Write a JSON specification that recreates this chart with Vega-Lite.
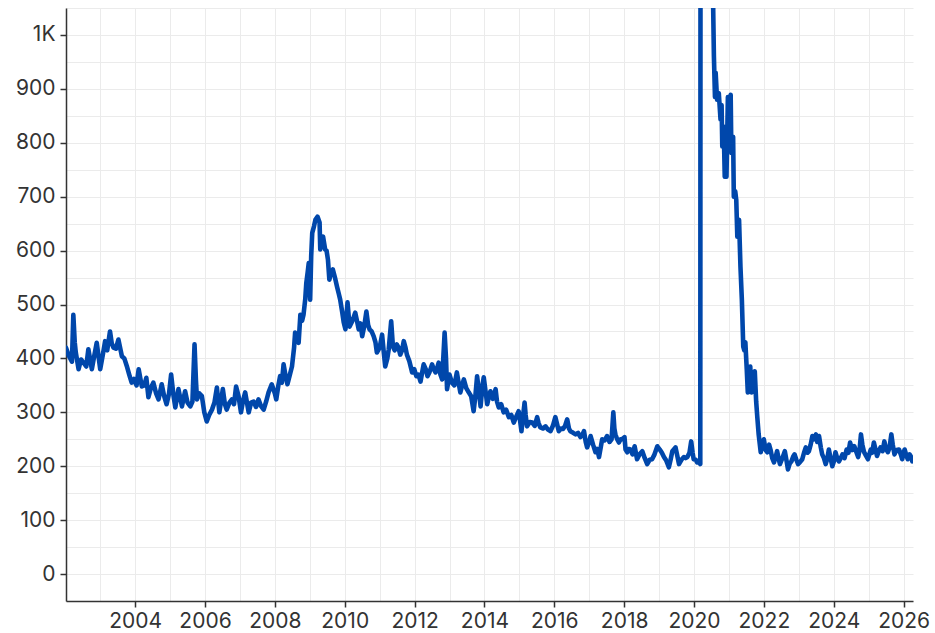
{
  "$schema": "https://vega.github.io/schema/vega-lite/v6.json",
  "width": 847,
  "height": 593,
  "autosize": {"type": "none"},
  "padding": {"left": 66, "top": 8, "right": 22, "bottom": 32},
  "background": "white",
  "config": {
    "view": {"stroke": null},
    "axis": {
      "labelFont": "Inter",
      "labelFontSize": 21,
      "labelColor": "#333333",
      "domainColor": "#333333",
      "domainWidth": 1.5,
      "tickColor": "#333333",
      "tickWidth": 1.5,
      "tickSize": 6,
      "gridColor": "#EBEBEB",
      "gridWidth": 1,
      "title": null
    }
  },
  "data": {"values": [
    {"t":2002.02,"v":420},{"t":2002.1,"v":405},{"t":2002.19,"v":394},{"t":2002.23,"v":481},{"t":2002.27,"v":430},{"t":2002.3,"v":411},{"t":2002.38,"v":380},{"t":2002.45,"v":398},{"t":2002.52,"v":392},{"t":2002.6,"v":385},{"t":2002.66,"v":417},{"t":2002.76,"v":380},{"t":2002.83,"v":405},{"t":2002.9,"v":429},{"t":2003.0,"v":380},{"t":2003.07,"v":405},{"t":2003.14,"v":432},{"t":2003.2,"v":415},{"t":2003.28,"v":450},{"t":2003.33,"v":428},{"t":2003.38,"v":420},{"t":2003.45,"v":418},{"t":2003.52,"v":435},{"t":2003.62,"v":404},{"t":2003.69,"v":400},{"t":2003.76,"v":386},{"t":2003.83,"v":370},{"t":2003.9,"v":355},{"t":2003.97,"v":362},
    {"t":2004.04,"v":350},{"t":2004.1,"v":380},{"t":2004.19,"v":348},{"t":2004.26,"v":350},{"t":2004.32,"v":364},{"t":2004.38,"v":328},{"t":2004.45,"v":345},{"t":2004.52,"v":355},{"t":2004.6,"v":335},{"t":2004.67,"v":324},{"t":2004.76,"v":352},{"t":2004.83,"v":330},{"t":2004.9,"v":315},{"t":2004.97,"v":335},
    {"t":2005.03,"v":370},{"t":2005.1,"v":330},{"t":2005.15,"v":309},{"t":2005.24,"v":343},{"t":2005.34,"v":311},{"t":2005.43,"v":339},{"t":2005.5,"v":318},{"t":2005.58,"v":311},{"t":2005.64,"v":320},{"t":2005.7,"v":426},{"t":2005.74,"v":360},{"t":2005.77,"v":324},{"t":2005.84,"v":335},{"t":2005.91,"v":330},{"t":2005.98,"v":300},
    {"t":2006.05,"v":283},{"t":2006.12,"v":295},{"t":2006.2,"v":305},{"t":2006.27,"v":318},{"t":2006.34,"v":346},{"t":2006.41,"v":300},{"t":2006.51,"v":343},{"t":2006.57,"v":315},{"t":2006.62,"v":305},{"t":2006.7,"v":318},{"t":2006.77,"v":324},{"t":2006.83,"v":315},{"t":2006.89,"v":348},{"t":2006.96,"v":330},
    {"t":2007.03,"v":300},{"t":2007.09,"v":322},{"t":2007.15,"v":337},{"t":2007.25,"v":300},{"t":2007.32,"v":318},{"t":2007.39,"v":320},{"t":2007.46,"v":310},{"t":2007.53,"v":324},{"t":2007.6,"v":312},{"t":2007.68,"v":305},{"t":2007.75,"v":320},{"t":2007.82,"v":337},{"t":2007.91,"v":352},
    {"t":2008.0,"v":335},{"t":2008.04,"v":324},{"t":2008.1,"v":350},{"t":2008.15,"v":367},{"t":2008.2,"v":355},{"t":2008.25,"v":389},{"t":2008.3,"v":370},{"t":2008.36,"v":352},{"t":2008.43,"v":370},{"t":2008.49,"v":385},{"t":2008.55,"v":420},{"t":2008.58,"v":448},{"t":2008.63,"v":440},{"t":2008.68,"v":429},{"t":2008.73,"v":481},{"t":2008.78,"v":470},{"t":2008.82,"v":481},{"t":2008.87,"v":510},{"t":2008.9,"v":540},{"t":2008.94,"v":560},{"t":2008.97,"v":577},
    {"t":2009.01,"v":509},{"t":2009.04,"v":590},{"t":2009.07,"v":633},{"t":2009.12,"v":645},{"t":2009.16,"v":657},{"t":2009.22,"v":663},{"t":2009.28,"v":652},{"t":2009.3,"v":602},{"t":2009.34,"v":620},{"t":2009.38,"v":626},{"t":2009.44,"v":602},{"t":2009.48,"v":600},{"t":2009.52,"v":583},{"t":2009.56,"v":546},{"t":2009.61,"v":560},{"t":2009.66,"v":565},{"t":2009.72,"v":550},{"t":2009.78,"v":533},{"t":2009.83,"v":520},{"t":2009.87,"v":509},{"t":2009.93,"v":485},{"t":2009.97,"v":467},
    {"t":2010.02,"v":454},{"t":2010.08,"v":504},{"t":2010.14,"v":459},{"t":2010.2,"v":467},{"t":2010.25,"v":475},{"t":2010.3,"v":485},{"t":2010.35,"v":470},{"t":2010.4,"v":454},{"t":2010.45,"v":465},{"t":2010.5,"v":441},{"t":2010.56,"v":460},{"t":2010.62,"v":487},{"t":2010.67,"v":462},{"t":2010.71,"v":454},{"t":2010.77,"v":450},{"t":2010.83,"v":441},{"t":2010.88,"v":430},{"t":2010.92,"v":411},
    {"t":2011.0,"v":420},{"t":2011.07,"v":444},{"t":2011.12,"v":410},{"t":2011.16,"v":385},{"t":2011.22,"v":400},{"t":2011.26,"v":417},{"t":2011.33,"v":469},{"t":2011.38,"v":422},{"t":2011.43,"v":415},{"t":2011.49,"v":426},{"t":2011.54,"v":420},{"t":2011.59,"v":407},{"t":2011.64,"v":415},{"t":2011.69,"v":432},{"t":2011.74,"v":420},{"t":2011.78,"v":407},{"t":2011.85,"v":395},{"t":2011.93,"v":374},{"t":2011.99,"v":380},
    {"t":2012.05,"v":367},{"t":2012.11,"v":370},{"t":2012.17,"v":357},{"t":2012.22,"v":375},{"t":2012.26,"v":389},{"t":2012.32,"v":380},{"t":2012.37,"v":367},{"t":2012.43,"v":375},{"t":2012.5,"v":389},{"t":2012.55,"v":380},{"t":2012.6,"v":374},{"t":2012.65,"v":383},{"t":2012.69,"v":392},{"t":2012.74,"v":370},{"t":2012.79,"v":361},{"t":2012.86,"v":448},{"t":2012.9,"v":400},{"t":2012.93,"v":343},
    {"t":2013.0,"v":370},{"t":2013.07,"v":355},{"t":2013.14,"v":350},{"t":2013.21,"v":374},{"t":2013.26,"v":355},{"t":2013.31,"v":337},{"t":2013.36,"v":350},{"t":2013.41,"v":361},{"t":2013.48,"v":345},{"t":2013.55,"v":337},{"t":2013.62,"v":330},{"t":2013.69,"v":302},{"t":2013.74,"v":330},{"t":2013.79,"v":367},{"t":2013.84,"v":340},{"t":2013.89,"v":311},{"t":2013.94,"v":348},{"t":2013.98,"v":365},
    {"t":2014.03,"v":340},{"t":2014.08,"v":315},{"t":2014.13,"v":330},{"t":2014.17,"v":339},{"t":2014.24,"v":325},{"t":2014.32,"v":343},{"t":2014.36,"v":320},{"t":2014.41,"v":309},{"t":2014.48,"v":315},{"t":2014.55,"v":300},{"t":2014.62,"v":305},{"t":2014.7,"v":291},{"t":2014.77,"v":295},{"t":2014.84,"v":281},{"t":2014.91,"v":292},{"t":2014.98,"v":302},
    {"t":2015.02,"v":285},{"t":2015.06,"v":265},{"t":2015.1,"v":290},{"t":2015.15,"v":318},{"t":2015.18,"v":295},{"t":2015.22,"v":274},{"t":2015.3,"v":282},{"t":2015.37,"v":281},{"t":2015.44,"v":275},{"t":2015.51,"v":291},{"t":2015.55,"v":280},{"t":2015.6,"v":272},{"t":2015.68,"v":270},{"t":2015.75,"v":274},{"t":2015.82,"v":268},{"t":2015.89,"v":265},{"t":2015.96,"v":275},
    {"t":2016.03,"v":291},{"t":2016.08,"v":278},{"t":2016.13,"v":265},{"t":2016.19,"v":270},{"t":2016.25,"v":269},{"t":2016.31,"v":275},{"t":2016.37,"v":287},{"t":2016.42,"v":270},{"t":2016.46,"v":265},{"t":2016.54,"v":262},{"t":2016.61,"v":259},{"t":2016.68,"v":262},{"t":2016.75,"v":254},{"t":2016.8,"v":258},{"t":2016.85,"v":265},{"t":2016.9,"v":245},{"t":2016.94,"v":235},
    {"t":2017.0,"v":245},{"t":2017.04,"v":256},{"t":2017.11,"v":240},{"t":2017.18,"v":226},{"t":2017.23,"v":232},{"t":2017.28,"v":217},{"t":2017.33,"v":235},{"t":2017.37,"v":250},{"t":2017.44,"v":248},{"t":2017.51,"v":256},{"t":2017.58,"v":245},{"t":2017.64,"v":250},{"t":2017.69,"v":300},{"t":2017.72,"v":270},{"t":2017.75,"v":259},{"t":2017.8,"v":250},{"t":2017.85,"v":244},{"t":2017.9,"v":250},{"t":2017.94,"v":250},
    {"t":2018.01,"v":254},{"t":2018.04,"v":231},{"t":2018.09,"v":226},{"t":2018.13,"v":232},{"t":2018.18,"v":231},{"t":2018.24,"v":222},{"t":2018.3,"v":237},{"t":2018.37,"v":213},{"t":2018.44,"v":222},{"t":2018.52,"v":228},{"t":2018.59,"v":215},{"t":2018.66,"v":204},{"t":2018.73,"v":212},{"t":2018.8,"v":213},{"t":2018.87,"v":222},{"t":2018.95,"v":237},
    {"t":2019.02,"v":231},{"t":2019.08,"v":225},{"t":2019.14,"v":217},{"t":2019.21,"v":210},{"t":2019.28,"v":198},{"t":2019.33,"v":212},{"t":2019.38,"v":228},{"t":2019.47,"v":235},{"t":2019.52,"v":220},{"t":2019.57,"v":204},{"t":2019.64,"v":212},{"t":2019.71,"v":217},{"t":2019.76,"v":215},{"t":2019.81,"v":217},{"t":2019.87,"v":225},{"t":2019.92,"v":246},{"t":2019.96,"v":225},{"t":2019.99,"v":213},
    {"t":2020.05,"v":212},{"t":2020.09,"v":207},{"t":2020.13,"v":210},{"t":2020.18,"v":204},{"t":2020.2,"v":3307},{"t":2020.22,"v":6867},{"t":2020.24,"v":6615},{"t":2020.26,"v":5237},{"t":2020.3,"v":4442},{"t":2020.34,"v":3176},{"t":2020.4,"v":2400},{"t":2020.45,"v":1900},{"t":2020.5,"v":1500},{"t":2020.53,"v":1300},{"t":2020.55,"v":1046},{"t":2020.57,"v":960},{"t":2020.6,"v":885},{"t":2020.62,"v":930},{"t":2020.66,"v":880},{"t":2020.71,"v":892},{"t":2020.76,"v":843},{"t":2020.79,"v":870},{"t":2020.81,"v":793},{"t":2020.85,"v":830},{"t":2020.88,"v":737},{"t":2020.93,"v":737},{"t":2020.97,"v":885},
    {"t":2021.01,"v":870},{"t":2021.05,"v":889},{"t":2021.07,"v":781},{"t":2021.1,"v":800},{"t":2021.12,"v":811},{"t":2021.14,"v":700},{"t":2021.18,"v":710},{"t":2021.21,"v":694},{"t":2021.24,"v":626},{"t":2021.29,"v":657},{"t":2021.33,"v":570},{"t":2021.37,"v":509},{"t":2021.41,"v":422},{"t":2021.44,"v":415},{"t":2021.47,"v":430},{"t":2021.51,"v":380},{"t":2021.54,"v":337},{"t":2021.58,"v":360},{"t":2021.61,"v":385},{"t":2021.65,"v":337},{"t":2021.7,"v":350},{"t":2021.74,"v":376},{"t":2021.78,"v":320},{"t":2021.81,"v":293},{"t":2021.85,"v":260},{"t":2021.91,"v":226},{"t":2021.95,"v":240},
    {"t":2022.0,"v":250},{"t":2022.05,"v":230},{"t":2022.1,"v":226},{"t":2022.15,"v":240},{"t":2022.19,"v":231},{"t":2022.24,"v":215},{"t":2022.29,"v":207},{"t":2022.34,"v":218},{"t":2022.38,"v":228},{"t":2022.42,"v":215},{"t":2022.46,"v":204},{"t":2022.53,"v":215},{"t":2022.6,"v":228},{"t":2022.65,"v":210},{"t":2022.69,"v":194},{"t":2022.74,"v":205},{"t":2022.79,"v":209},{"t":2022.84,"v":218},{"t":2022.88,"v":222},{"t":2022.93,"v":212},{"t":2022.98,"v":204},
    {"t":2023.04,"v":208},{"t":2023.1,"v":213},{"t":2023.15,"v":225},{"t":2023.2,"v":235},{"t":2023.25,"v":225},{"t":2023.29,"v":228},{"t":2023.34,"v":240},{"t":2023.39,"v":256},{"t":2023.44,"v":250},{"t":2023.49,"v":259},{"t":2023.53,"v":245},{"t":2023.58,"v":256},{"t":2023.63,"v":235},{"t":2023.67,"v":222},{"t":2023.72,"v":215},{"t":2023.77,"v":204},{"t":2023.82,"v":215},{"t":2023.86,"v":231},{"t":2023.91,"v":215},{"t":2023.96,"v":200},
    {"t":2024.01,"v":210},{"t":2024.05,"v":226},{"t":2024.1,"v":215},{"t":2024.15,"v":209},{"t":2024.2,"v":215},{"t":2024.25,"v":222},{"t":2024.31,"v":215},{"t":2024.37,"v":231},{"t":2024.42,"v":225},{"t":2024.47,"v":244},{"t":2024.53,"v":230},{"t":2024.59,"v":237},{"t":2024.64,"v":228},{"t":2024.7,"v":217},{"t":2024.74,"v":230},{"t":2024.78,"v":259},{"t":2024.82,"v":240},{"t":2024.87,"v":226},{"t":2024.92,"v":220},{"t":2024.98,"v":213},
    {"t":2025.02,"v":222},{"t":2025.06,"v":231},{"t":2025.1,"v":225},{"t":2025.15,"v":244},{"t":2025.2,"v":230},{"t":2025.24,"v":219},{"t":2025.29,"v":228},{"t":2025.34,"v":235},{"t":2025.4,"v":228},{"t":2025.45,"v":246},{"t":2025.5,"v":232},{"t":2025.55,"v":226},{"t":2025.6,"v":235},{"t":2025.65,"v":259},{"t":2025.69,"v":240},{"t":2025.74,"v":222},{"t":2025.8,"v":230},{"t":2025.87,"v":231},{"t":2025.92,"v":222},{"t":2025.96,"v":213},
    {"t":2026.0,"v":225},{"t":2026.03,"v":231},{"t":2026.08,"v":220},{"t":2026.12,"v":213},{"t":2026.17,"v":222},{"t":2026.21,"v":218},{"t":2026.25,"v":209}
  ]},
  "mark": {"type": "line", "color": "#0047AB", "strokeWidth": 4.6, "clip": true, "strokeJoin": "round", "strokeCap": "round"},
  "encoding": {
    "x": {
      "field": "t", "type": "quantitative",
      "scale": {"domain": [2002.02, 2026.27], "nice": false, "zero": false},
      "axis": {
        "values": [2003,2004,2005,2006,2007,2008,2009,2010,2011,2012,2013,2014,2015,2016,2017,2018,2019,2020,2021,2022,2023,2024,2025,2026],
        "labelExpr": "datum.value % 2 == 0 ? format(datum.value, 'd') : ''",
        "tickOpacity": {"condition": {"test": "datum.value % 2 == 1", "value": 0}, "value": 1},
        "labelPadding": 3,
        "labelFlush": false,
        "labelOverlap": false
      }
    },
    "y": {
      "field": "v", "type": "quantitative",
      "scale": {"domain": [-50, 1050], "nice": false, "zero": false},
      "axis": {
        "values": [-50,0,50,100,150,200,250,300,350,400,450,500,550,600,650,700,750,800,850,900,950,1000,1050],
        "labelExpr": "datum.value % 100 == 0 && datum.value >= 0 ? (datum.value == 1000 ? '1K' : format(datum.value, 'd')) : ''",
        "tickOpacity": {"condition": {"test": "datum.value % 100 == 0 && datum.value >= 0", "value": 1}, "value": 0},
        "labelPadding": 5,
        "labelFlush": false,
        "labelOverlap": false
      }
    }
  }
}
